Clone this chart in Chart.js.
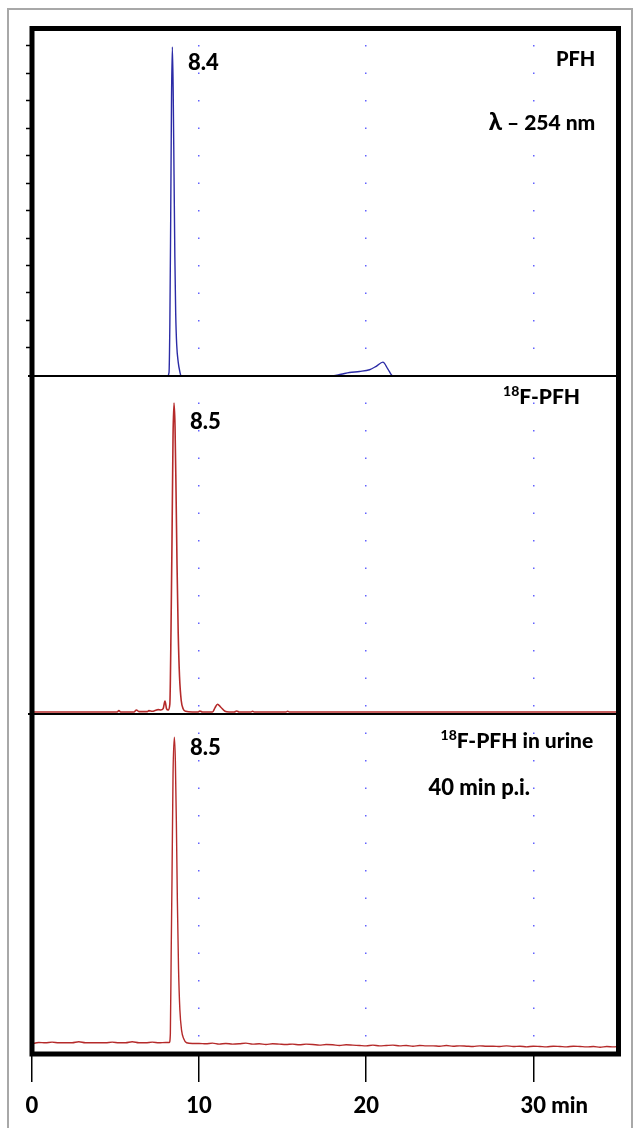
<!DOCTYPE html>
<html><head><meta charset="utf-8">
<style>
html,body{margin:0;padding:0;background:#fff;}
#wrap{position:relative;width:640px;height:1128px;overflow:hidden;}
#outer{position:absolute;left:7px;top:8px;width:622px;height:1200px;border:2px solid #a8a8a8;}
canvas{position:absolute;left:0;top:0;}
</style>
<script src="https://cdn.jsdelivr.net/npm/chart.js@4.4.0/dist/chart.umd.min.js"></script>
</head><body>
<div id="wrap"><div id="outer"></div><canvas id="c" width="640" height="1128"></canvas></div>
<script>
// ---------- data ----------
const xTickValues = [0, 10, 20, 30];
const xTickLabels = ['0', '10', '20', '30'];
const xUnit = 'min';
const yTopTicks = [8.1, 16.0, 23.9, 31.8, 39.7, 47.6, 55.5, 63.4, 71.3, 79.2, 87.1, 95.0];

// PFH, UV 254 nm (percent of panel height)
const pfhTime = [0, 8.10, 8.20, 8.25, 8.30, 8.35, 8.40, 8.45, 8.50, 8.55, 8.60, 8.66, 8.75, 8.85, 8.92,
                 17.9, 18.5, 19.0, 19.6, 20.2, 20.6, 21.0, 21.3, 21.6, 35.1];
const pfhVal  = [0, 0, 1, 15, 45, 80, 94.7, 82, 58, 34, 18, 9, 4, 1.2, 0,
                 0, 0.5, 1.0, 1.3, 1.8, 2.8, 4.0, 2.0, 0, 0];

// 18F-PFH radio trace
const fpfhTime = [0, 1.5, 3.0, 4.5, 5.1, 5.2, 5.3, 6.1, 6.25, 6.4, 6.9, 7.0, 7.2, 7.4, 7.55, 7.7, 7.85, 7.96,
                  8.05, 8.15, 8.25, 8.32, 8.38, 8.44, 8.50, 8.56, 8.62, 8.68, 8.75, 8.83, 8.93, 9.05, 9.2,
                  9.6, 9.95, 10.05, 10.2, 10.8, 10.95, 11.1, 11.3, 11.55, 11.8, 12.1, 12.25, 12.4,
                  13.1, 13.2, 13.3, 15.2, 15.3, 15.4, 20, 25, 30, 35.1];
const fpfhVal  = [0.6, 0.6, 0.6, 0.6, 0.6, 1.0, 0.6, 0.6, 1.2, 0.7, 0.7, 1.0, 0.8, 1.1, 1.3, 1.2, 1.6, 3.8,
                  1.6, 1.2, 3, 25, 52, 82, 92, 85, 66, 44, 24, 11, 4, 1.5, 0.8,
                  0.6, 0.6, 0.9, 0.6, 0.6, 1.8, 2.9, 2.0, 0.8, 0.6, 0.6, 0.9, 0.6,
                  0.6, 0.8, 0.6, 0.6, 0.8, 0.6, 0.6, 0.6, 0.6, 0.6];

// 18F-PFH in urine, 40 min p.i.
const urineTime = [0, 0.4, 0.8, 1.2, 1.6, 2.0, 2.4, 2.8, 3.2, 3.6, 4.0, 4.4, 4.8, 5.2, 5.6, 6.0, 6.4, 6.8, 7.2, 7.6, 8.0,
                   8.22, 8.28, 8.33, 8.38, 8.44, 8.52, 8.58, 8.64, 8.70, 8.77, 8.85, 8.95, 9.08, 9.25,
                   9.6, 10.0, 10.4, 10.8, 11.2, 11.6, 12.0, 12.4, 12.8, 13.2, 13.6, 14.0, 14.4, 14.8, 15.2, 15.6,
                   16.0, 16.4, 16.8, 17.2, 17.6, 18.0, 18.4, 18.8, 19.2, 19.6, 20.0, 20.4, 20.8, 21.2, 21.6, 22.0,
                   22.4, 22.8, 23.2, 23.6, 24.0, 24.4, 24.8, 25.2, 25.6, 26.0, 26.4, 26.8, 27.2, 27.6, 28.0, 28.4,
                   28.8, 29.2, 29.6, 30.0, 30.4, 30.8, 31.2, 31.6, 32.0, 32.4, 32.8, 33.2, 33.6, 34.0, 34.4, 34.8, 35.1];
const urineVal  = [3.0, 3.4, 3.3, 3.5, 3.3, 3.3, 3.3, 3.6, 3.3, 3.3, 3.3, 3.3, 3.5, 3.3, 3.3, 3.6, 3.3, 3.3, 3.5, 3.3, 3.4,
                   3.4, 6, 30, 52, 82, 93.2, 86, 68, 45, 25, 13, 7, 4.5, 3.3,
                   3.1, 3.1, 3.0, 3.2, 2.9, 3.1, 2.9, 3.0, 3.2, 2.9, 3.0, 2.8, 3.0, 2.9, 2.8, 2.9,
                   2.7, 2.9, 2.8, 2.6, 2.8, 2.7, 2.5, 2.7, 2.6, 2.5, 2.4, 2.6, 2.4, 2.5, 2.6, 2.4,
                   2.5, 2.3, 2.5, 2.4, 2.4, 2.3, 2.5, 2.3, 2.4, 2.3, 2.2, 2.4, 2.3, 2.3, 2.2, 2.4,
                   2.2, 2.3, 2.1, 2.3, 2.2, 2.1, 2.3, 2.2, 2.1, 2.3, 2.2, 2.1, 2.2, 2.0, 2.2, 2.1, 2.2];

const toXY = (t, v) => t.map((x, i) => ({x: x, y: v[i]}));

// ---------- decoration plugin: frame, panel separators, texts ----------
const FONT = 'Lato, "Open Sans", sans-serif';
const W = '900';
function drawParts(ctx, parts, x, y, align) {
  let total = 0;
  parts.forEach(p => { ctx.font = W + ' ' + p.size + 'px ' + FONT; p.w = ctx.measureText(p.t).width; total += p.w; });
  let cx = align === 'right' ? x - total : x;
  ctx.textAlign = 'left';
  ctx.textBaseline = 'alphabetic';
  parts.forEach(p => { ctx.font = W + ' ' + p.size + 'px ' + FONT; ctx.fillText(p.t, cx, y + (p.dy || 0)); cx += p.w; });
}
const framePlugin = {
  id: 'frame',
  afterDraw(chart) {
    const {ctx, chartArea: a, scales} = chart;
    const xs = scales.x;
    ctx.save();
    ctx.strokeStyle = '#000';
    ctx.lineWidth = 2;
    [scales.yTop.bottom, scales.yMid.bottom].forEach(y => {
      ctx.beginPath(); ctx.moveTo(a.left - 4, y); ctx.lineTo(a.right, y); ctx.stroke();
    });
    ctx.lineWidth = 5;
    ctx.strokeRect(a.left, a.top, a.right - a.left, a.bottom - a.top);

    ctx.fillStyle = '#000';
    const P = (id, v) => scales[id].getPixelForValue(v);
    drawParts(ctx, [{t: '8.4', size: 22}], xs.getPixelForValue(9.34), P('yTop', 88.1), 'left');
    drawParts(ctx, [{t: 'PFH', size: 20}], xs.getPixelForValue(33.71), P('yTop', 89.2), 'right');
    drawParts(ctx, [{t: 'λ', size: 24}, {t: ' – 254 nm', size: 21}], xs.getPixelForValue(33.71), P('yTop', 70.8), 'right');
    drawParts(ctx, [{t: '18', size: 14, dy: -8}, {t: 'F-PFH', size: 21}], xs.getPixelForValue(32.8), P('yMid', 91.7), 'right');
    drawParts(ctx, [{t: '8.5', size: 22}], xs.getPixelForValue(9.46), P('yMid', 84.3), 'left');
    drawParts(ctx, [{t: '18', size: 14, dy: -8}, {t: 'F-PFH in urine', size: 21}], xs.getPixelForValue(33.59), P('yBot', 90.1), 'right');
    drawParts(ctx, [{t: '40 min p.i.', size: 22}], xs.getPixelForValue(29.8), P('yBot', 76.2), 'right');
    drawParts(ctx, [{t: '8.5', size: 22}], xs.getPixelForValue(9.46), P('yBot', 87.9), 'left');

    // unit after the last x tick label
    const items = xs.getLabelItems();
    const it = items[items.length - 1];
    if (it) {
      const [lx, ly] = it.options.translation;
      ctx.font = W + ' 22px ' + FONT;
      const w = ctx.measureText(it.label).width;
      ctx.textAlign = 'left';
      ctx.textBaseline = it.options.textBaseline;
      ctx.fillText(' ' + xUnit, lx + w / 2, ly + it.textOffset);
    }
    ctx.restore();
  }
};

const yCommon = {
  type: 'linear', position: 'left', stack: 'panels', min: 0, max: 100,
  border: {display: false},
  ticks: {display: false},
  grid: {display: false, drawOnChartArea: false},
  afterFit(s) { s.width = 6; }
};

new Chart(document.getElementById('c'), {
  type: 'line',
  data: {
    datasets: [
      {data: toXY(pfhTime, pfhVal), yAxisID: 'yTop', borderColor: '#2b2ba6', borderWidth: 1.4},
      {data: toXY(fpfhTime, fpfhVal), yAxisID: 'yMid', borderColor: '#b52a2a', borderWidth: 1.6},
      {data: toXY(urineTime, urineVal), yAxisID: 'yBot', borderColor: '#b52a2a', borderWidth: 1.4}
    ]
  },
  options: {
    responsive: false,
    animation: false,
    devicePixelRatio: 1,
    elements: {point: {radius: 0}, line: {cubicInterpolationMode: 'monotone', fill: false}},
    layout: {padding: {left: 26, top: 28.5, right: 21.5, bottom: 0}},
    plugins: {legend: {display: false}, tooltip: {enabled: false}},
    scales: {
      x: {
        type: 'linear', min: 0, max: 35.1,
        afterBuildTicks(s) { s.ticks = xTickValues.map(v => ({value: v})); },
        afterFit(s) { s.height = 74; },
        ticks: {
          callback: (v) => xTickLabels[xTickValues.indexOf(v)],
          color: '#000', font: {family: FONT, weight: W, size: 22}, padding: 11, maxRotation: 0
        },
        grid: {color: 'rgba(70,70,255,0.85)', lineWidth: 1.5, tickColor: '#000', tickWidth: 1.5,
               tickLength: 28, tickBorderDash: [], drawOnChartArea: true},
        border: {display: false, dash: [1.5, 26], dashOffset: 11}
      },
      yBot: Object.assign({}, yCommon, {stackWeight: 340}),
      yMid: Object.assign({}, yCommon, {stackWeight: 338}),
      yTop: Object.assign({}, yCommon, {
        stackWeight: 347.5,
        afterBuildTicks(s) { s.ticks = yTopTicks.map(v => ({value: v})); },
        grid: {display: true, drawOnChartArea: false, drawTicks: true, tickLength: 6, tickWidth: 1.5,
               color: '#000', tickColor: '#000'}
      })
    }
  },
  plugins: [framePlugin]
});
</script>
</body></html>
